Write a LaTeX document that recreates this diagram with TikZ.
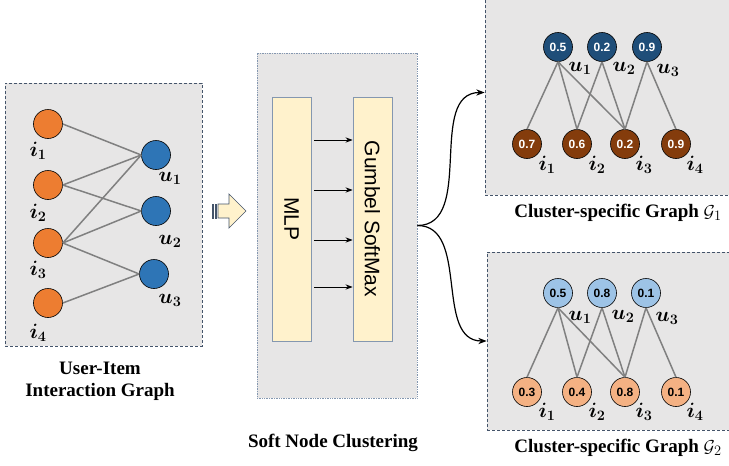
\documentclass[tikz,border=0pt]{standalone}
\usepackage{amsmath}
\usepackage{fontspec}
\setmainfont{Liberation Serif}
\setsansfont{Liberation Sans}
\usetikzlibrary{arrows, arrows.meta}
\usetikzlibrary{positioning}
\usetikzlibrary{calc}
\definecolor{panelgray}{HTML}{E7E6E6}
\definecolor{slate}{HTML}{44546A}
\definecolor{slatelight}{HTML}{8497B0}
\definecolor{itemorange}{HTML}{ED7D31}
\definecolor{userblue}{HTML}{2E75B6}
\definecolor{darkblue}{HTML}{1F4E79}
\definecolor{darkbrown}{HTML}{843C0C}
\definecolor{paleblue}{HTML}{9DC3E6}
\definecolor{paleorange}{HTML}{F4B183}
\definecolor{cream}{HTML}{FFF2CC}
\definecolor{edgegray}{HTML}{808080}
\newcommand{\nodelab}[2]{{\boldmath$#1_{#2}$}}
\newcommand{\capfont}{\fontsize{19}{22}\selectfont\bfseries}

\begin{document}
\begin{tikzpicture}[x=1pt,y=-1pt,>=Stealth,
	panel/.style={draw=slate, fill=panelgray, dash pattern=on 3pt off 2pt, line width=0.7pt},
	dot/.style={circle, draw=black, line width=0.6pt, minimum size=29pt, inner sep=0pt,
		font=\sffamily\bfseries\fontsize{12}{12}\selectfont},
	glab/.style={inner sep=0pt, font=\fontsize{21}{21}\selectfont},
	edge/.style={draw=edgegray, line width=1.5pt},
	layer/.style={draw=slatelight, fill=cream, line width=0.8pt, minimum width=39pt, minimum height=244pt,
		inner sep=0pt, font=\sffamily\fontsize{21}{21}\selectfont}]
				\useasboundingbox (0,0) rectangle (729,466);
				\clip (0,0) rectangle (729,466);
				
				% draw user-item graph
				\node[panel, minimum width=197pt, minimum height=263pt] (ui) at (103.5,214.5) {};
				\node[dot, fill=itemorange] (i1) at (48,124) {};
				\node[dot, fill=itemorange] (i2) at (48,185) {};
				\node[dot, fill=itemorange] (i3) at (48,243) {};
				\node[dot, fill=itemorange] (i4) at (48,303) {};
				\node[dot, fill=userblue] (u1) at (156,155) {};
				\node[dot, fill=userblue] (u2) at (156,211) {};
				\node[dot, fill=userblue] (u3) at (154,274) {};
				\draw[edge] (i1.east) -- (u1.west);
				\draw[edge] (i2.east) -- (u1.west);
				\draw[edge] (i2.east) -- (u2.west);
				\draw[edge] (i3.east) -- (u1.west);
				\draw[edge] (i3.east) -- (u2.west);
				\draw[edge] (i3.east) -- (u3.west);
				\draw[edge] (i4.east) -- (u3.west);
				\node[glab] (li1) at (38,151) {\nodelab{i}{1}};
				\node[glab] (li2) at (38,213) {\nodelab{i}{2}};
				\node[glab] (li3) at (38,270) {\nodelab{i}{3}};
				\node[glab] (li4) at (38,333) {\nodelab{i}{4}};
				\node[glab] (lu1) at (170,178) {\nodelab{u}{1}};
				\node[glab] (lu2) at (170,241) {\nodelab{u}{2}};
				\node[glab] (lu3) at (170,300) {\nodelab{u}{3}};
				\node[align=center, font=\capfont] (uicap) at (100,381) {User-Item\\Interaction Graph};
				
				% draw striped arrow
				\filldraw[fill=slate, draw=slate, line width=0.5pt] (212,204) rectangle (213.5,218);
				\filldraw[fill=cream, draw=slate, line width=0.7pt] (215,204) rectangle (216.5,218);
				\filldraw[fill=cream, draw=slate, line width=0.7pt]
					(218,204) -- (229,204) -- (229,194) -- (246,211) -- (229,228) -- (229,218) -- (218,218) -- cycle;
				
				% draw soft node clustering
				\node[draw=slatelight, fill=panelgray, densely dotted, line width=0.7pt,
					minimum width=160pt, minimum height=345pt] (clus) at (337,225.5) {};
				\node[layer] (mlp) at (291.5,219) {\rotatebox{-90}{MLP}};
				\node[layer] (gum) at (372.5,219) {\rotatebox{-90}{Gumbel SoftMax}};
				\draw[->, line width=0.9pt, shorten <=3pt] (mlp.east |- 0,140) -- (gum.west |- 0,140);
				\draw[->, line width=0.9pt, shorten <=3pt] (mlp.east |- 0,190) -- (gum.west |- 0,190);
				\draw[->, line width=0.9pt, shorten <=3pt] (mlp.east |- 0,240) -- (gum.west |- 0,240);
				\draw[->, line width=0.9pt, shorten <=3pt] (mlp.east |- 0,287) -- (gum.west |- 0,287);
				\node[font=\capfont] (cluscap) at (333,443) {Soft Node Clustering};
				
				% draw cluster-specific graph 1
				\node[panel, minimum width=260pt, minimum height=205pt] (g1) at (615,92.5) {};
				\node[dot, fill=darkblue, text=white] (a1) at (558,47) {0.5};
				\node[dot, fill=darkblue, text=white] (a2) at (602,47) {0.2};
				\node[dot, fill=darkblue, text=white] (a3) at (647,47) {0.9};
				\node[dot, fill=darkbrown, text=white] (b1) at (527,144) {0.7};
				\node[dot, fill=darkbrown, text=white] (b2) at (577,144) {0.6};
				\node[dot, fill=darkbrown, text=white] (b3) at (625,144) {0.2};
				\node[dot, fill=darkbrown, text=white] (b4) at (676,144) {0.9};
				\draw[edge] (a1.south) -- (b1.north);
				\draw[edge] (a1.south) -- (b2.north);
				\draw[edge] (a1.south) -- (b3.north);
				\draw[edge] (a2.south) -- (b2.north);
				\draw[edge] (a2.south) -- (b3.north);
				\draw[edge] (a3.south) -- (b3.north);
				\draw[edge] (a3.south) -- (b4.north);
				\node[glab] (la1) at (580,68) {\nodelab{u}{1}};
				\node[glab] (la2) at (624,68) {\nodelab{u}{2}};
				\node[glab] (la3) at (668,70) {\nodelab{u}{3}};
				\node[glab] (lb1) at (547,165) {\nodelab{i}{1}};
				\node[glab] (lb2) at (597,165) {\nodelab{i}{2}};
				\node[glab] (lb3) at (644,165) {\nodelab{i}{3}};
				\node[glab] (lb4) at (695,165) {\nodelab{i}{4}};
				\node[font=\capfont] (g1cap) at (618,213) {Cluster-specific Graph \mdseries$\mathcal{G}_1$};
				
				% draw cluster-specific graph 2
				\node[panel, minimum width=260pt, minimum height=178pt] (g2) at (617,341) {};
				\node[dot, fill=paleblue] (c1) at (558,293) {0.5};
				\node[dot, fill=paleblue] (c2) at (602,293) {0.8};
				\node[dot, fill=paleblue] (c3) at (646,293) {0.1};
				\node[dot, fill=paleorange] (d1) at (527,392) {0.3};
				\node[dot, fill=paleorange] (d2) at (577,392) {0.4};
				\node[dot, fill=paleorange] (d3) at (625,392) {0.8};
				\node[dot, fill=paleorange] (d4) at (676,392) {0.1};
				\draw[edge] (c1.south) -- (d1.north);
				\draw[edge] (c1.south) -- (d2.north);
				\draw[edge] (c1.south) -- (d3.north);
				\draw[edge] (c2.south) -- (d2.north);
				\draw[edge] (c2.south) -- (d3.north);
				\draw[edge] (c3.south) -- (d3.north);
				\draw[edge] (c3.south) -- (d4.north);
				\node[glab] (lc1) at (580,317) {\nodelab{u}{1}};
				\node[glab] (lc2) at (623,316) {\nodelab{u}{2}};
				\node[glab] (lc3) at (667,318) {\nodelab{u}{3}};
				\node[glab] (ld1) at (547,412) {\nodelab{i}{1}};
				\node[glab] (ld2) at (597,412) {\nodelab{i}{2}};
				\node[glab] (ld3) at (644,412) {\nodelab{i}{3}};
				\node[glab] (ld4) at (695,412) {\nodelab{i}{4}};
				\node[font=\capfont] (g2cap) at (618,448) {Cluster-specific Graph \mdseries$\mathcal{G}_2$};
				
				% draw split arrows
				\draw[->, line width=1.2pt] (clus.east) to[out=0, in=180] (g1.west);
				\draw[->, line width=1.2pt] (clus.east) to[out=0, in=180] (g2.west);
			\end{tikzpicture}
\end{document}
